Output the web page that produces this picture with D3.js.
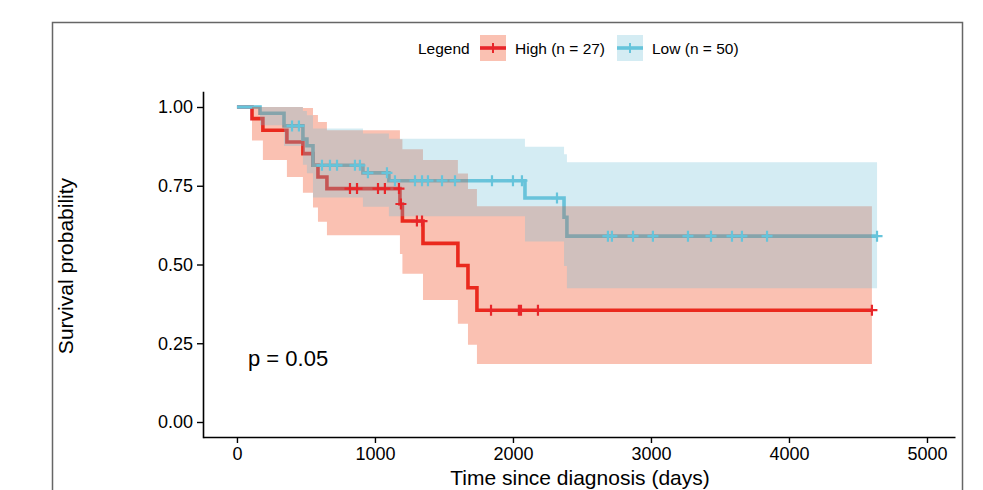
<!DOCTYPE html>
<html>
<head>
<meta charset="utf-8">
<script src="https://cdn.jsdelivr.net/npm/d3@7"></script>
<style>
  body { margin: 0; background: #fff; }
  text { font-family: "Liberation Sans", Arial, Helvetica, sans-serif; fill: #000; }
</style>
</head>
<body>
<div id="chart"></div>
<script>
// Kaplan-Meier steps (days, survival, 95% CI)
var highTimes = [0, 109, 188, 362, 478, 551, 587, 652, 1181, 1199, 1348, 1601, 1674, 1739, 4601];
var highSurv  = [1, 0.963, 0.926, 0.889, 0.852, 0.815, 0.778, 0.741, 0.692, 0.638, 0.567, 0.497, 0.426, 0.355, 0.355];
var highLower = [1, 0.894, 0.832, 0.778, 0.728, 0.681, 0.636, 0.593, 0.533, 0.471, 0.387, 0.312, 0.245, 0.184, 0.184];
var highUpper = [1, 1, 1, 1, 0.997, 0.975, 0.952, 0.926, 0.898, 0.866, 0.832, 0.789, 0.740, 0.685, 0.685];
var highCensor = [819, 870, 1022, 1072, 1174, 1188, 1304, 1341, 1841, 2043, 2058, 2181, 4601];

var lowTimes = [0, 167, 341, 478, 507, 551, 913, 1101, 2087, 2370, 2391, 4638];
var lowSurv  = [1, 0.98, 0.94, 0.898, 0.877, 0.815, 0.791, 0.766, 0.711, 0.65, 0.59, 0.59];
var lowLower = [1, 0.942, 0.876, 0.817, 0.790, 0.713, 0.683, 0.653, 0.573, 0.495, 0.425, 0.425];
var lowUpper = [1, 1, 1, 0.987, 0.974, 0.932, 0.916, 0.899, 0.874, 0.85, 0.825, 0.825];
var lowCensor = [399, 449, 616, 674, 725, 855, 891, 949, 1087, 1145, 1290, 1341, 1384, 1486, 1580,
                 1848, 2000, 2065, 2319, 2688, 2717, 2870, 3014, 3268, 3435, 3587, 3659, 3841, 4638];

var xTicks = [0, 1000, 2000, 3000, 4000, 5000];
var yTicks = [0, 0.25, 0.5, 0.75, 1];
var groupLabels = ["High (n = 27)", "Low (n = 50)"];
var pLabel = "p = 0.05";

var lineColors = ["#E8262A", "#66C4DB"];
var fillColors = ["#EE3300", "#70C0D7"];

var width = 983, height = 490;

var svg = d3.select("#chart").append("svg")
  .attr("width", width)
  .attr("height", height);

// outer frame
svg.append("rect")
  .attr("x", 52.5).attr("y", 22.5)
  .attr("width", 910).attr("height", 500)
  .attr("fill", "none")
  .attr("stroke", "#666")
  .attr("stroke-width", 1.5);

var x = d3.scaleLinear().domain([-246, 5203]).range([203, 955]);
var y = d3.scaleLinear().domain([-0.05, 1.05]).range([437.75, 91.25]);

function makeSeries(times, surv, lower, upper) {
  return times.map(function(t, i) {
    return { t: t, s: surv[i], lo: lower[i], hi: upper[i] };
  });
}

var groups = [
  makeSeries(highTimes, highSurv, highLower, highUpper),
  makeSeries(lowTimes, lowSurv, lowLower, lowUpper)
];
var censors = [highCensor, lowCensor];

var line = d3.line()
  .curve(d3.curveStepAfter)
  .x(function(d) { return x(d.t); })
  .y(function(d) { return y(d.s); });

var area = d3.area()
  .curve(d3.curveStepAfter)
  .x(function(d) { return x(d.t); })
  .y0(function(d) { return y(d.lo); })
  .y1(function(d) { return y(d.hi); });

// lines first, ribbons over them, censor marks on top (ggsurvplot order)
groups.forEach(function(g, i) {
  svg.append("path")
    .attr("d", line(g))
    .attr("fill", "none")
    .attr("stroke", lineColors[i])
    .attr("stroke-width", 3.6);
});

groups.forEach(function(g, i) {
  svg.append("path")
    .attr("d", area(g))
    .attr("fill", fillColors[i])
    .attr("fill-opacity", 0.3);
});

var bis = d3.bisector(function(d) { return d.t; }).right;
var half = 5.5;
groups.forEach(function(g, i) {
  var marks = svg.append("g");
  censors[i].forEach(function(t) {
    var idx = Math.max(0, bis(g, t) - 1);
    var cx = x(t), cy = y(g[idx].s);
    marks.append("path")
      .attr("d", "M" + (cx - half) + "," + cy + "H" + (cx + half) +
                 "M" + cx + "," + (cy - half) + "V" + (cy + half))
      .attr("stroke", lineColors[i])
      .attr("stroke-width", 2.2)
      .attr("fill", "none");
  });
});

// axes
var xAxis = svg.append("g")
  .attr("transform", "translate(0,437)")
  .call(d3.axisBottom(x).tickValues(xTicks).tickSize(6).tickSizeOuter(0).tickFormat(d3.format("d")));
var yAxis = svg.append("g")
  .attr("transform", "translate(203,0)")
  .call(d3.axisLeft(y).tickValues(yTicks).tickSize(6).tickSizeOuter(0).tickFormat(d3.format(".2f")));

[xAxis, yAxis].forEach(function(a) {
  a.select(".domain").attr("stroke", "#000").attr("stroke-width", 1.6);
  a.selectAll(".tick line").attr("stroke", "#000").attr("stroke-width", 1.4);
  a.selectAll(".tick text")
    .attr("fill", "#000")
    .style("font-size", "18px")
    .style("font-family", "'Liberation Sans', Arial, sans-serif");
});
xAxis.selectAll(".tick text").attr("y", 10).attr("dy", "0.72em");
yAxis.selectAll(".tick text").attr("x", -10);

// axis titles
svg.append("text")
  .attr("x", 580).attr("y", 484.5)
  .attr("text-anchor", "middle")
  .style("font-size", "21px")
  .text("Time since diagnosis (days)");

svg.append("text")
  .attr("transform", "translate(73,266) rotate(-90)")
  .attr("text-anchor", "middle")
  .style("font-size", "21px")
  .text("Survival probability");

svg.append("text")
  .attr("x", 248).attr("y", 366)
  .style("font-size", "22px")
  .text(pLabel);

// legend
var legend = svg.append("g").attr("transform", "translate(418,48)");
legend.append("text")
  .attr("x", 0).attr("y", 5.5)
  .style("font-size", "15.5px")
  .text("Legend");

var keyX = [62, 199];
groupLabels.forEach(function(lbl, i) {
  var k = legend.append("g").attr("transform", "translate(" + keyX[i] + ",0)");
  k.append("rect")
    .attr("x", 0).attr("y", -13)
    .attr("width", 26).attr("height", 26)
    .attr("fill", fillColors[i])
    .attr("fill-opacity", 0.3);
  k.append("path")
    .attr("d", "M0,0H26")
    .attr("stroke", lineColors[i])
    .attr("stroke-width", 3.6);
  k.append("path")
    .attr("d", "M13,-5V5")
    .attr("stroke", lineColors[i])
    .attr("stroke-width", 2);
  k.append("text")
    .attr("x", 35).attr("y", 5.5)
    .style("font-size", "15.5px")
    .text(lbl);
});
</script>
</body>
</html>
